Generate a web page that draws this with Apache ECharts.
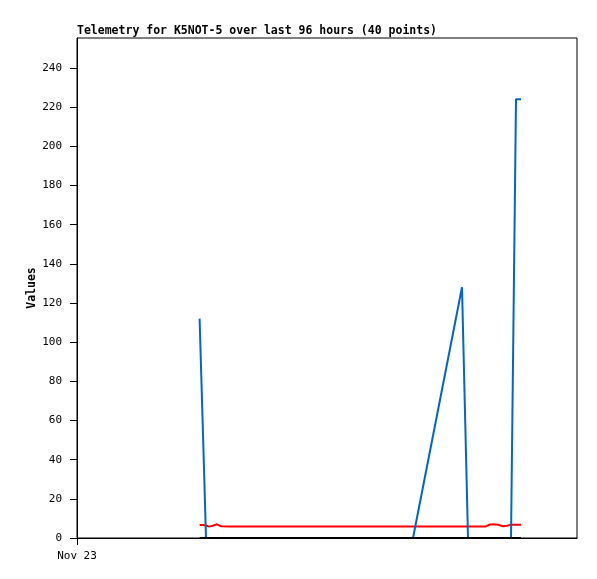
<!DOCTYPE html>
<html>
<head>
<meta charset="utf-8">
<script src="https://cdn.jsdelivr.net/npm/echarts@6/dist/echarts.min.js"></script>
<style>html,body{margin:0;padding:0;background:#fff}#c{width:597px;height:579px}</style>
</head>
<body>
<div id="c"></div>
<script>
// hours since Nov 23 00:00
var hours = [6.13, 6.30, 6.45, 6.60, 6.80, 7.00,
  7.20, 7.65, 8.15, 8.65, 9.15, 9.65, 10.15, 10.65, 11.15, 11.65, 12.15, 12.65, 13.15, 13.65, 14.15, 14.65, 15.15, 15.65, 16.15, 16.50, 16.80,
  19.25, 19.55, 19.90, 20.25, 20.45, 20.65, 20.85, 21.05, 21.30, 21.50, 21.70, 21.95, 22.20];
var blueVals = [112, 53, 0, 0, 0, 0,
  0, 0, 0, 0, 0, 0, 0, 0, 0, 0, 0, 0, 0, 0, 0, 0, 0, 0, 0, 0, 0,
  128, 0, 0, 0, 0, 0, 0, 0, 0, 0, 0, 224, 224];
var redVals = [6.6, 6.6, 6.4, 5.8, 6.3, 7.0,
  6.0, 5.9, 5.9, 5.9, 5.9, 5.9, 5.9, 5.9, 5.9, 5.9, 5.9, 5.9, 5.9, 5.9, 5.9, 5.9, 5.9, 5.9, 5.9, 5.9, 5.9,
  5.9, 5.9, 5.9, 5.9, 5.9, 6.9, 7.0, 6.8, 6.0, 6.3, 6.8, 6.8, 6.8];
var blackVals = [0, 0, 0, 0, 0, 0,
  0, 0, 0, 0, 0, 0, 0, 0, 0, 0, 0, 0, 0, 0, 0, 0, 0, 0, 0, 0, 0,
  0, 0, 0, 0, 0, 0, 0, 0, 0, 0, 0, 0, 0];
var yTicks = [0, 20, 40, 60, 80, 100, 120, 140, 160, 180, 200, 220, 240];
var xTickLabels = ['Nov 23'];
var titleText = 'Telemetry for K5NOT-5 over last 96 hours (40 points)';
var yName = 'Values';

function pairs(vals) { return hours.map(function (h, i) { return [h, vals[i]]; }); }

var font = '"DejaVu Sans Mono", monospace';
var chart = echarts.init(document.getElementById('c'), null, { renderer: 'canvas' });
chart.setOption({
  animation: false,
  backgroundColor: '#fff',
  title: {
    text: titleText, left: 72, top: 20,
    textStyle: { fontFamily: font, fontSize: 11.5, fontWeight: 'bold', color: '#000' }
  },
  grid: { left: 77, top: 38, width: 500, height: 500, show: true, borderColor: '#000', borderWidth: 1, backgroundColor: 'transparent' },
  xAxis: {
    type: 'value', min: 0, max: 25,
    axisLine: { show: true, onZero: false, lineStyle: { color: '#000', width: 1 } },
    axisTick: { show: true, length: 7, customValues: [0], lineStyle: { color: '#000' } },
    axisLabel: { customValues: [0], formatter: function (v) { return xTickLabels[0]; }, margin: 13, fontFamily: font, fontSize: 11, color: '#000' },
    splitLine: { show: false }
  },
  yAxis: {
    type: 'value', min: 0, max: 255.3,
    name: yName, nameLocation: 'middle', nameGap: 39, nameRotate: 90, nameMoveOverlap: false,
    nameTextStyle: { fontFamily: font, fontSize: 11.5, fontWeight: 'bold', color: '#000' },
    axisLine: { show: true, lineStyle: { color: '#000', width: 1 } },
    axisTick: { show: true, length: 7, customValues: yTicks, lineStyle: { color: '#000' } },
    axisLabel: { customValues: yTicks, margin: 15, fontFamily: font, fontSize: 11, color: '#000' },
    splitLine: { show: false }
  },
  series: [
    { type: 'line', data: pairs(redVals), showSymbol: false, lineStyle: { color: '#ff0000', width: 2 }, itemStyle: { color: '#ff0000' } },
    { type: 'line', data: pairs(blueVals), showSymbol: false, lineStyle: { color: '#0066cc', width: 2 }, itemStyle: { color: '#0066cc' } },
    { type: 'line', data: pairs(blackVals), showSymbol: false, lineStyle: { color: '#000000', width: 2 }, itemStyle: { color: '#000' } }
  ]
});
</script>
</body>
</html>
